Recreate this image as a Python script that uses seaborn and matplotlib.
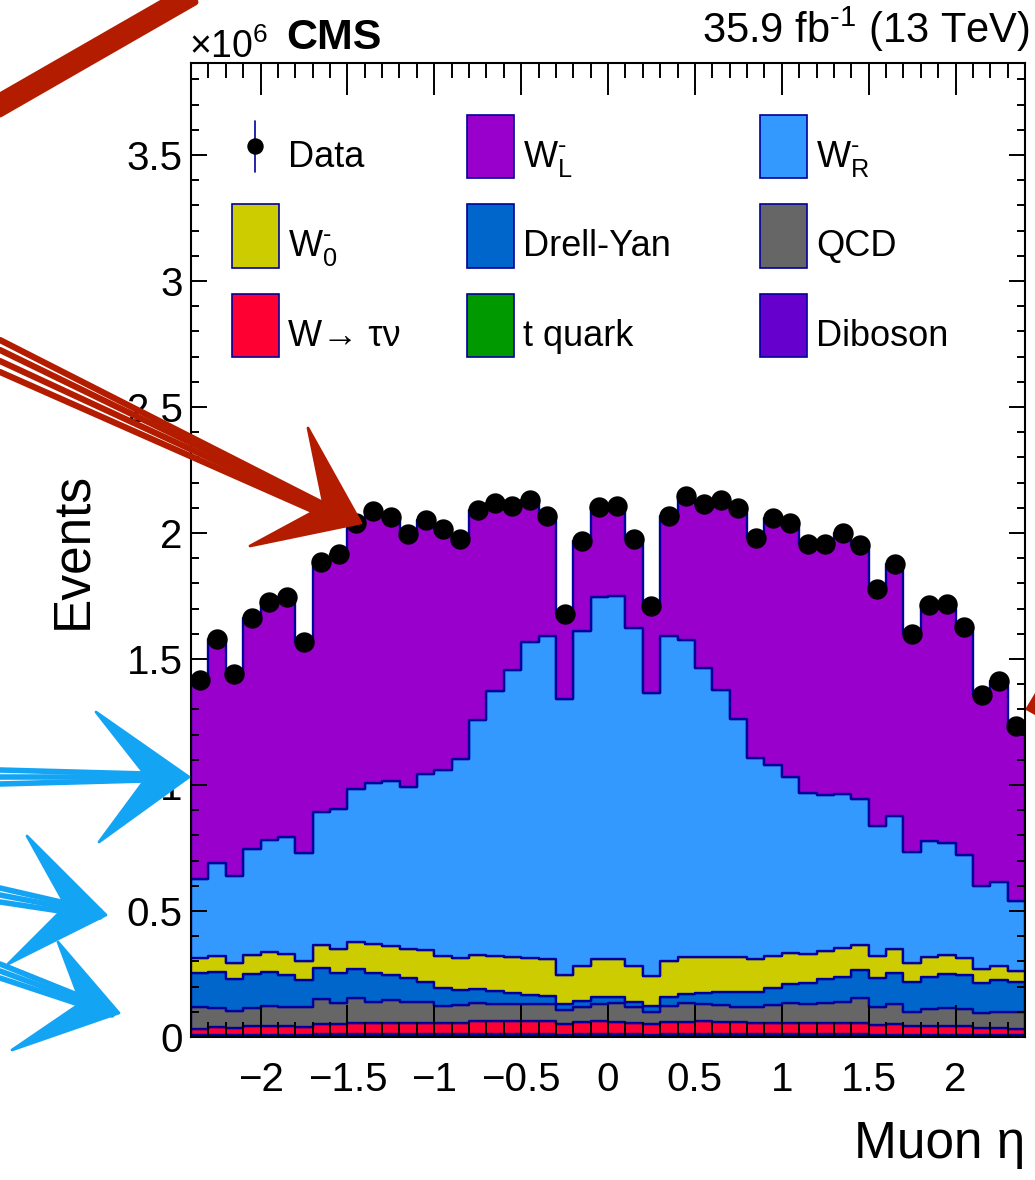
import numpy as np
import pandas as pd
import matplotlib
matplotlib.use("Agg")
import matplotlib.pyplot as plt
import seaborn as sns
from matplotlib.ticker import MultipleLocator, FuncFormatter
from matplotlib.patches import Rectangle, Polygon, Patch
from matplotlib.lines import Line2D
from matplotlib.legend import Legend
from matplotlib.legend_handler import HandlerBase

# ---------------- data (events in units of 10^6) ----------------
eta_edges = np.linspace(-2.4, 2.4, 49)

data_events = [1.417, 1.579, 1.442, 1.664, 1.727, 1.745, 1.569, 1.886, 1.915, 2.040, 2.089, 2.065,
               1.996, 2.052, 2.017, 1.975, 2.091, 2.120, 2.107, 2.131, 2.067, 1.679, 1.967, 2.102,
               2.108, 1.977, 1.711, 2.067, 2.147, 2.116, 2.131, 2.100, 1.981, 2.061, 2.040, 1.958,
               1.955, 1.999, 1.952, 1.777, 1.877, 1.598, 1.716, 1.717, 1.626, 1.357, 1.413, 1.234]

# cumulative stack boundaries (top of each layer)
top_wl = [1.400, 1.579, 1.442, 1.664, 1.727, 1.745, 1.569, 1.886, 1.915, 2.045, 2.089, 2.065,
          1.996, 2.052, 2.017, 1.975, 2.091, 2.120, 2.107, 2.131, 2.067, 1.679, 1.967, 2.102,
          2.108, 1.977, 1.711, 2.067, 2.147, 2.116, 2.131, 2.100, 1.981, 2.061, 2.040, 1.958,
          1.955, 1.999, 1.952, 1.777, 1.877, 1.598, 1.716, 1.717, 1.626, 1.357, 1.413, 1.234]
top_wr = [0.626, 0.689, 0.639, 0.745, 0.782, 0.792, 0.729, 0.894, 0.906, 0.983, 1.009, 1.016,
          0.993, 1.044, 1.060, 1.102, 1.258, 1.374, 1.458, 1.567, 1.591, 1.343, 1.612, 1.747,
          1.750, 1.622, 1.366, 1.591, 1.575, 1.463, 1.377, 1.261, 1.107, 1.081, 1.030, 0.970,
          0.959, 0.966, 0.943, 0.837, 0.877, 0.734, 0.779, 0.771, 0.722, 0.599, 0.615, 0.541]
top_w0 = [0.312, 0.321, 0.292, 0.324, 0.339, 0.328, 0.303, 0.364, 0.351, 0.378, 0.369, 0.361,
          0.348, 0.345, 0.321, 0.312, 0.325, 0.323, 0.316, 0.315, 0.310, 0.246, 0.282, 0.308,
          0.310, 0.283, 0.243, 0.303, 0.319, 0.316, 0.319, 0.316, 0.310, 0.321, 0.332, 0.328,
          0.341, 0.352, 0.365, 0.321, 0.348, 0.295, 0.316, 0.324, 0.315, 0.270, 0.283, 0.263]
top_dy = [0.255, 0.259, 0.230, 0.250, 0.259, 0.246, 0.226, 0.274, 0.253, 0.270, 0.255, 0.246,
          0.233, 0.220, 0.196, 0.187, 0.189, 0.184, 0.173, 0.167, 0.163, 0.131, 0.143, 0.157,
          0.160, 0.140, 0.124, 0.157, 0.169, 0.173, 0.177, 0.180, 0.180, 0.193, 0.210, 0.213,
          0.229, 0.239, 0.266, 0.233, 0.255, 0.220, 0.239, 0.250, 0.246, 0.213, 0.226, 0.217]
top_qcd = [0.120, 0.114, 0.104, 0.114, 0.123, 0.118, 0.118, 0.150, 0.134, 0.153, 0.140, 0.147,
           0.140, 0.140, 0.124, 0.127, 0.134, 0.131, 0.131, 0.131, 0.131, 0.107, 0.118, 0.131,
           0.134, 0.120, 0.098, 0.124, 0.134, 0.130, 0.127, 0.120, 0.120, 0.127, 0.134, 0.131,
           0.135, 0.137, 0.156, 0.120, 0.130, 0.100, 0.110, 0.114, 0.110, 0.094, 0.100, 0.100]
top_wtau = [0.032, 0.041, 0.034, 0.042, 0.045, 0.045, 0.041, 0.050, 0.050, 0.054, 0.056, 0.056,
            0.054, 0.056, 0.056, 0.056, 0.062, 0.062, 0.062, 0.065, 0.062, 0.051, 0.059, 0.062,
            0.061, 0.056, 0.051, 0.061, 0.061, 0.065, 0.061, 0.060, 0.056, 0.056, 0.057, 0.054,
            0.054, 0.054, 0.054, 0.048, 0.050, 0.042, 0.045, 0.045, 0.045, 0.034, 0.034, 0.032]
top_tquark = [0.008, 0.008, 0.008, 0.009, 0.009, 0.009, 0.009, 0.010, 0.010, 0.010, 0.011, 0.011,
              0.011, 0.011, 0.011, 0.011, 0.011, 0.011, 0.011, 0.011, 0.011, 0.009, 0.010, 0.011,
              0.011, 0.010, 0.009, 0.011, 0.011, 0.011, 0.011, 0.011, 0.011, 0.011, 0.011, 0.011,
              0.010, 0.010, 0.010, 0.009, 0.009, 0.009, 0.009, 0.009, 0.009, 0.008, 0.008, 0.008]
top_diboson = [0.003, 0.003, 0.003, 0.004, 0.004, 0.004, 0.004, 0.004, 0.004, 0.005, 0.005, 0.005,
               0.005, 0.005, 0.005, 0.005, 0.005, 0.005, 0.005, 0.005, 0.005, 0.004, 0.005, 0.005,
               0.005, 0.005, 0.004, 0.005, 0.005, 0.005, 0.005, 0.005, 0.005, 0.005, 0.005, 0.005,
               0.005, 0.005, 0.005, 0.004, 0.004, 0.004, 0.004, 0.004, 0.004, 0.003, 0.003, 0.003]

process_names = ["WL", "WR", "W0", "DY", "QCD", "Wtau", "tquark", "Diboson"]  # top -> bottom
process_labels = {
    "WL": r"W$^{\text{-}}_{\mathrm{L}}$",
    "WR": r"W$^{\text{-}}_{\mathrm{R}}$",
    "W0": r"W$^{\text{-}}_{0}$",
    "DY": "Drell-Yan",
    "QCD": "QCD",
    "Wtau": "W\u2192 \u03c4\u03bd",
    "tquark": "t quark",
    "Diboson": "Diboson",
}
process_colors = {
    "WL": "#9900cc", "WR": "#3399ff", "W0": "#cccc00", "DY": "#0066cc",
    "QCD": "#666666", "Wtau": "#ff0033", "tquark": "#009900", "Diboson": "#6600cc",
}
EDGE = "#00009a"

# ---------------- build table ----------------
tops = [top_wl, top_wr, top_w0, top_dy, top_qcd, top_wtau, top_tquark, top_diboson]
tops = [np.asarray(t) for t in tops] + [np.zeros(48)]
centers = 0.5 * (eta_edges[:-1] + eta_edges[1:])
rows = []
for i, name in enumerate(process_names):
    contrib = (tops[i] - tops[i + 1]) * 1e6
    rows.append(pd.DataFrame({"eta": centers, "process": name, "events": contrib}))
df = pd.concat(rows, ignore_index=True)
data_df = pd.DataFrame({"eta": centers, "events": np.asarray(data_events) * 1e6})

# ---------------- style ----------------
sns.set_theme(style="ticks")
plt.rcParams["font.family"] = ["Liberation Sans", "DejaVu Sans"]
plt.rcParams["mathtext.fontset"] = "custom"
plt.rcParams["mathtext.rm"] = "Liberation Sans"
plt.rcParams["mathtext.it"] = "Liberation Sans:italic"
plt.rcParams["mathtext.bf"] = "Liberation Sans:bold"
plt.rcParams["axes.unicode_minus"] = True
for key in ("text.color", "axes.labelcolor", "xtick.color", "ytick.color",
            "xtick.labelcolor", "ytick.labelcolor", "axes.edgecolor"):
    plt.rcParams[key] = "black"

W, H = 1035, 1180
fig = plt.figure(figsize=(W / 100, H / 100), dpi=100)
fig.patch.set_facecolor("white")
ax = fig.add_axes([191 / W, (H - 1037) / H, (1025 - 191) / W, (1037 - 63) / H])

sns.histplot(data=df, x="eta", weights="events", hue="process", hue_order=process_names,
             palette=process_colors, bins=eta_edges.tolist(), multiple="stack", element="step",
             fill=True, alpha=1, edgecolor=EDGE, linewidth=1.7, legend=False, ax=ax)
sns.scatterplot(data=data_df, x="eta", y="events", color="black", s=215, linewidth=0,
                zorder=5, ax=ax)

ax.set_xlim(-2.4, 2.4)
ax.set_ylim(0, 3.865e6)
ax.set_axisbelow(False)
ax.xaxis.set_major_locator(MultipleLocator(0.5))
ax.xaxis.set_minor_locator(MultipleLocator(0.1))
ax.yaxis.set_major_locator(MultipleLocator(0.5e6))
ax.yaxis.set_minor_locator(MultipleLocator(0.1e6))
ax.xaxis.set_major_formatter(FuncFormatter(lambda v, p: f"{v:g}".replace("-", "\u2212")))
ax.yaxis.set_major_formatter(FuncFormatter(lambda v, p: f"{v / 1e6:g}"))
ax.tick_params(which="both", direction="in", top=True, right=True, width=1.4,
               color="black", labelcolor="black")
ax.tick_params(axis="x", which="major", length=23, labelsize=29, pad=17)
ax.tick_params(axis="x", which="minor", length=11)
ax.tick_params(axis="y", which="major", length=11.5, labelsize=29, pad=6)
ax.tick_params(axis="y", which="minor", length=5.5)
for s in ax.spines.values():
    s.set_linewidth(1.5)
    s.set_color("black")

ax.set_xlabel("Muon \u03b7", fontsize=37, loc="right", color="black")
ax.xaxis.set_label_coords(1.0, -0.085)
ax.set_ylabel("Events", fontsize=37, color="black")
ax.yaxis.set_label_coords(-0.113, 0.5)

# ---------------- legend (three columns) ----------------
class BoxHandler(HandlerBase):
    def create_artists(self, legend, orig_handle, xdescent, ydescent, width, height, fontsize, trans):
        up = 0.25 * fontsize
        r = Rectangle((-xdescent, -ydescent + up), width, height,
                      facecolor=orig_handle.get_facecolor(), edgecolor=EDGE,
                      linewidth=1.2, transform=trans)
        return [r]


class DataHandler(HandlerBase):
    def create_artists(self, legend, orig_handle, xdescent, ydescent, width, height, fontsize, trans):
        up = 0.25 * fontsize
        cx = -xdescent + width / 2
        cy = -ydescent + up + height / 2
        half = 0.41 * height
        bar = Line2D([cx, cx], [cy - half, cy + half], color=EDGE, lw=1.2, transform=trans)
        dot = Line2D([cx], [cy], marker="o", ms=10.8, color="black", ls="none", transform=trans)
        return [bar, dot]


data_proxy = Line2D([], [], marker="o", color="black")
patches = {n: Patch(facecolor=process_colors[n], edgecolor=EDGE) for n in process_names}
hmap = {Patch: BoxHandler(), data_proxy: DataHandler()}
columns = [
    ([data_proxy, patches["W0"], patches["Wtau"]], ["Data", process_labels["W0"], process_labels["Wtau"]]),
    ([patches["WL"], patches["DY"], patches["tquark"]], [process_labels["WL"], process_labels["DY"], process_labels["tquark"]]),
    ([patches["WR"], patches["QCD"], patches["Diboson"]], [process_labels["WR"], process_labels["QCD"], process_labels["Diboson"]]),
]
col_x = [232, 467, 760]
legend_top = 124
for j, (hs, labs) in enumerate(columns):
    leg = Legend(ax, hs, labs, loc="upper left",
                 bbox_to_anchor=(col_x[j] / W, 1 - legend_top / H), bbox_transform=fig.transFigure,
                 frameon=False, fontsize=26, handlelength=1.30, handleheight=2.308,
                 handletextpad=0.25, labelspacing=0.734, borderpad=0, borderaxespad=0,
                 handler_map=hmap, labelcolor="black")
    ax.add_artist(leg)

# ---------------- header texts ----------------
fig.text(189 / W, 1 - 58 / H, "\u00d710$^{6}$", fontsize=27, ha="left", va="baseline")
fig.text(286 / W, 1 - 49 / H, "CMS", fontsize=31, fontweight="bold", ha="left", va="baseline")
fig.text(1030 / W, 1 - 43 / H, r"35.9 fb$^{\text{-1}}$ (13 TeV)", fontsize=30,
         ha="right", va="baseline")

# ---------------- hand-drawn annotation arrows ----------------
def fxy(x, y):
    return (x / W, 1 - y / H)


def stroke(p0, p1, color, lw=4.0):
    (x0, y0), (x1, y1) = fxy(*p0), fxy(*p1)
    fig.add_artist(Line2D([x0, x1], [y0, y1], color=color, lw=lw, solid_capstyle="round",
                          transform=fig.transFigure, zorder=20))


def head(tip, up, notch, low, color):
    fig.add_artist(Polygon([fxy(*p) for p in (tip, up, notch, low)], closed=True,
                           facecolor=color, edgecolor=color, lw=2, joinstyle="round",
                           transform=fig.transFigure, zorder=20))


RED = "#b41c00"
BLUE = "#14a4f4"
for off in (-10, -4, 2, 8):
    stroke((0, 106 + off), (195, -6 + off), RED, lw=5)
for a, b in (((0, 340), (348, 517)), ((0, 350), (352, 521)), ((0, 361), (350, 523)),
             ((0, 372), (344, 524))):
    stroke(a, b, RED, lw=4.5)
head((361, 523), (308, 428), (324, 506), (250, 546), RED)
head((1036, 694), (1036, 694), (1027, 709), (1036, 714), RED)
for a, b in (((0, 770), (182, 775)), ((0, 777), (182, 777)), ((0, 784), (182, 779))):
    stroke(a, b, BLUE, lw=4)
head((189, 777), (96, 712), (147, 777), (99, 842), BLUE)
for a, b in (((0, 888), (100, 911)), ((0, 895), (100, 914)), ((0, 902), (100, 917))):
    stroke(a, b, BLUE, lw=4)
head((106, 915), (27, 836), (66, 906), (8, 964), BLUE)
for a, b in (((0, 964), (112, 1009)), ((0, 971), (112, 1012)), ((0, 978), (112, 1015))):
    stroke(a, b, BLUE, lw=4)
head((119, 1013), (58, 942), (81, 1003), (12, 1050), BLUE)

fig.savefig("out.png", dpi=100, facecolor="white")
